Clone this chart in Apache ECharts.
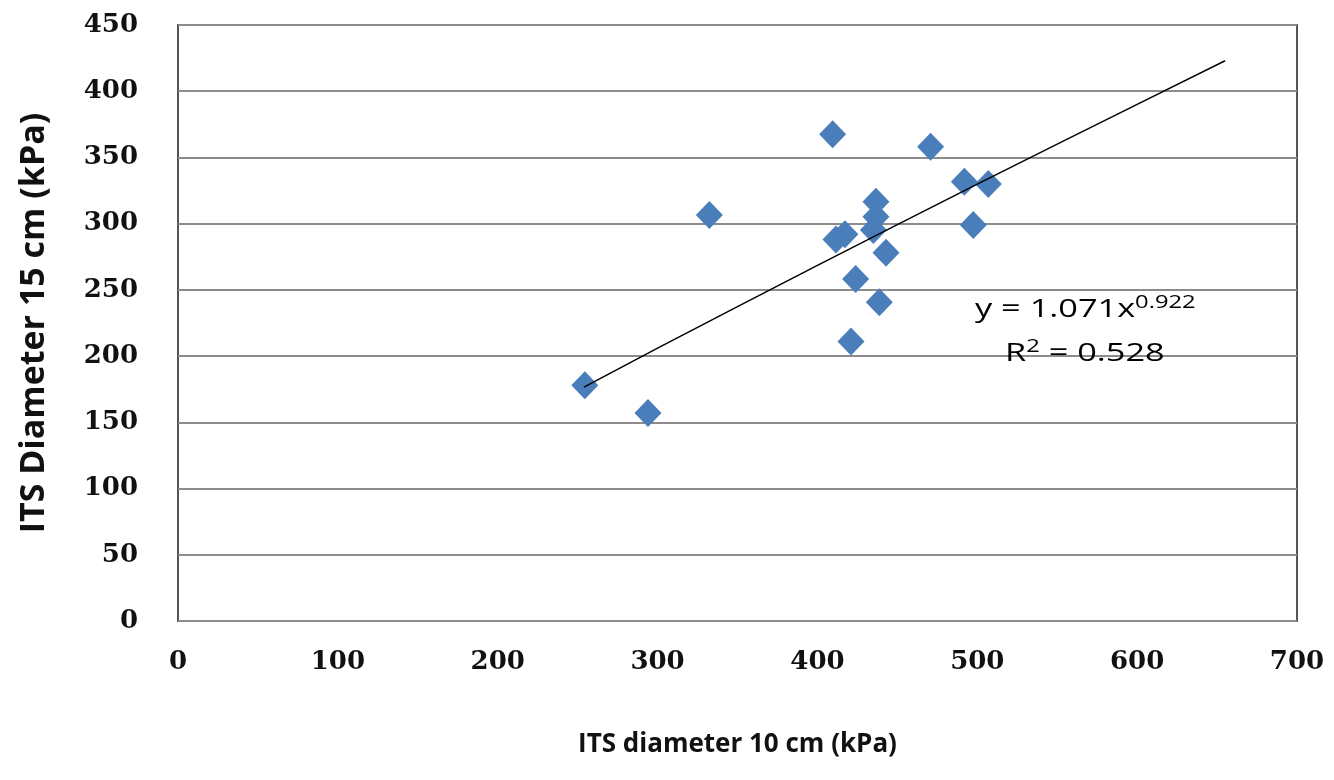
<!DOCTYPE html>
<html><head><meta charset="utf-8">
<script src="https://cdn.jsdelivr.net/npm/echarts@6/dist/echarts.min.js"></script>
<style>html,body{margin:0;padding:0;background:#fff}#c{width:1334px;height:780px}</style>
</head><body><div id="c"></div>
<script>
var xValues = [254.5, 294, 332.4, 409.5, 470.8, 491.9, 506.9, 497.5, 436.6, 436.6, 435, 411.6, 417.2, 442.9, 423.9, 438.7, 421];
var yValues = [178, 157, 306.6, 367.5, 358, 331.7, 330, 299, 316.6, 305.3, 295.2, 288, 292, 278, 258.2, 240.6, 211];
var trendX = [254, 300, 350, 400, 450, 500, 550, 600, 655];
var trendY = [176.6, 206.0, 237.4, 268.5, 299.3, 329.9, 360.1, 390.1, 423.0];
var equationText = ['y = 1.071x', '0.922'];
var r2Text = ['R', '2', ' = 0.528'];
var xTitle = 'ITS diameter 10 cm (kPa)';
var yTitle = 'ITS Diameter 15 cm (kPa)';

var scatterData = xValues.map(function(x, i){ return [x, yValues[i]]; });
var trendData = trendX.map(function(x, i){ return [x, trendY[i]]; });

var chart = echarts.init(document.getElementById('c'));
var tickFont = {fontFamily: 'DejaVu Serif', fontWeight: 'bold', fontSize: 26, color: '#111'};
var eqRich = {
  a: {fontFamily: 'Open Sans', fontSize: 26, fill: '#000'},
  s: {fontFamily: 'Open Sans', fontSize: 18, fill: '#000', padding: [0, 0, 14, 0]}
};
chart.setOption({
  animation: false,
  backgroundColor: '#fff',
  grid: {left: 178, right: 37, top: 25, bottom: 159, show: true, borderColor: '#555', borderWidth: 2, backgroundColor: 'transparent'},
  xAxis: {
    type: 'value', min: 0, max: 700, interval: 100,
    name: xTitle, nameLocation: 'middle', nameGap: 111,
    nameTextStyle: {fontFamily: 'Open Sans', fontWeight: 'bold', fontSize: 26, color: '#111'},
    axisLine: {show: false}, axisTick: {show: false},
    splitLine: {show: false},
    axisLabel: Object.assign({margin: 28}, tickFont)
  },
  yAxis: {
    type: 'value', min: 0, max: 450, interval: 50,
    name: yTitle, nameLocation: 'middle', nameGap: 127,
    nameTextStyle: {fontFamily: 'Open Sans', fontWeight: 'bold', fontSize: 34, color: '#111'},
    axisLine: {show: false}, axisTick: {show: false},
    splitLine: {show: true, lineStyle: {color: '#8c8c8c', width: 2}},
    axisLabel: Object.assign({margin: 40}, tickFont)
  },
  series: [
    {type: 'scatter', data: scatterData, symbol: 'diamond', symbolSize: [27, 28],
     itemStyle: {color: '#4a7ebb', opacity: 1}, z: 3},
    {type: 'line', data: trendData, showSymbol: false, symbol: 'none',
     lineStyle: {color: '#000', width: 1.5}, z: 4}
  ],
  graphic: [
    {type: 'text', x: 975, y: 310, scaleX: 1.32, z: 10,
     style: {text: '{a|' + equationText[0] + '}{s|' + equationText[1] + '}', verticalAlign: 'middle', rich: eqRich}},
    {type: 'text', x: 1005, y: 354, scaleX: 1.32, z: 10,
     style: {text: '{a|' + r2Text[0] + '}{s|' + r2Text[1] + '}{a|' + r2Text[2] + '}', verticalAlign: 'middle', rich: eqRich}}
  ]
});
</script></body></html>
